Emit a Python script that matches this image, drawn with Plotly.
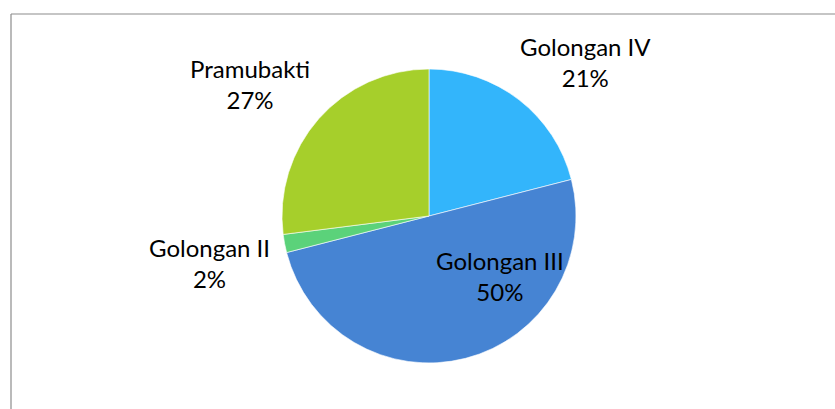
import plotly.graph_objects as go

############################## Data ##############################################

labels = ["Golongan IV", "Golongan III", "Golongan II", "Pramubakti"]
values = [21, 50, 2, 27]
colors = ["#33b5fb", "#4684d3", "#5bd27a", "#a6cf2b"]

## label block centres in pixels (x, y from top) - placement only
label_pos = {
    "Golongan IV": (585, 62),
    "Golongan III": (500, 276),
    "Golongan II": (209, 263),
    "Pramubakti": (250, 84),
}

##################################################################################

W, H = 835, 409
total = sum(values)

fig = go.Figure()

fig.add_trace(go.Pie(
    labels=labels,
    values=values,
    sort=False,
    direction="clockwise",
    rotation=0,
    marker=dict(colors=colors, line=dict(color="white", width=0.6)),
    textinfo="none",
    hoverinfo="label+percent",
    showlegend=False,
    domain=dict(x=[282 / W, 576 / W], y=[(H - 363) / H, (H - 69) / H]),
))

for lab, val in zip(labels, values):
    px_, py_ = label_pos[lab]
    fig.add_annotation(
        x=px_ / W, y=1 - py_ / H, xref="paper", yref="paper",
        text=f"{lab}<br>{round(100 * val / total)}%",
        showarrow=False, xanchor="center", yanchor="middle", align="center",
        font=dict(family="Lato", size=24, color="#000000"),
    )

# chart frame (only top and left edges visible in the crop)
fig.add_shape(type="line", xref="paper", yref="paper",
              x0=11 / W, x1=1, y0=1 - 14 / H, y1=1 - 14 / H,
              line=dict(color="#8c8c8c", width=1.2))
fig.add_shape(type="line", xref="paper", yref="paper",
              x0=11 / W, x1=11 / W, y0=0, y1=1 - 14 / H,
              line=dict(color="#8c8c8c", width=1.2))

fig.update_layout(
    width=W, height=H,
    margin=dict(l=0, r=0, t=0, b=0),
    paper_bgcolor="white",
    plot_bgcolor="white",
)

# page body has a default 8px margin, drop it so the figure sits at 0,0
fig.write_html("out.html", config={"displayModeBar": False},
               post_script="document.body.style.margin='0';")
